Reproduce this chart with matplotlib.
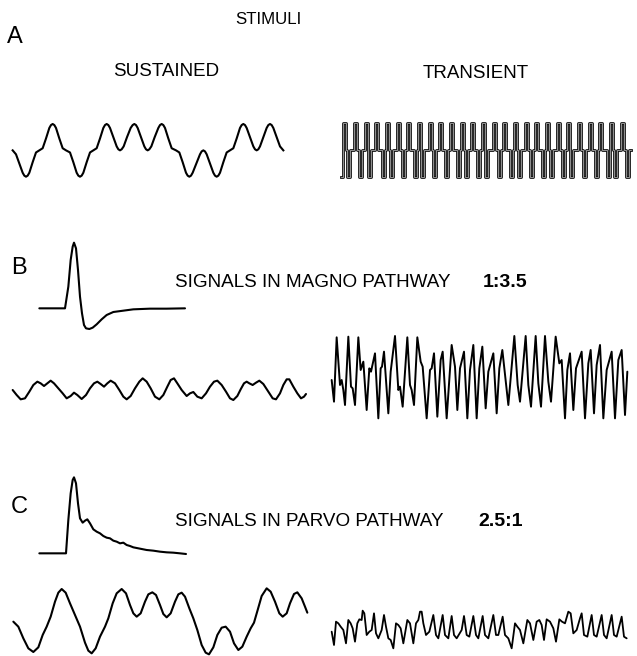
import matplotlib
matplotlib.use("Agg")
import matplotlib.pyplot as plt

W, H = 637, 656
FONT = ["Liberation Sans", "DejaVu Sans"]

# ---------- A: stimuli ----------
# sustained stimulus: time (a.u.) and normalised amplitude
sust_stim_t = [38, 48, 58, 68, 73, 78, 83, 88, 98, 108, 118, 128, 138, 148, 153, 158, 163, 168, 178, 188,
               198, 210, 220, 230, 235, 240, 245, 250, 260, 270, 280, 290, 300, 310, 315, 320, 325, 330,
               340, 350, 355, 360, 365, 371, 381, 392, 398, 403, 408, 413, 423, 433, 438, 443, 448, 454,
               464, 475, 480, 485, 490, 495, 505, 515, 528, 538, 548, 558, 563, 568, 573, 578, 589, 600,
               605, 610, 615, 620, 630, 640, 645, 650, 655, 660, 670, 680, 690, 700, 710, 720, 725, 730,
               735, 740, 750, 760, 765, 770, 775, 780, 790, 800, 805, 810, 815, 820, 830, 840, 850]
sust_stim_v = [0, -0.15, -0.5, -0.85, -0.96, -1, -0.96, -0.85, -0.45, -0.08, 0, 0.08, 0.45, 0.85, 0.96, 1, 0.96, 0.85, 0.45, 0.08,
               0, -0.08, -0.45, -0.85, -0.96, -1, -0.96, -0.85, -0.45, -0.08, 0, 0.08, 0.45, 0.85, 0.96, 1, 0.96, 0.85,
               0.5, 0.15, 0.04, 0, 0.04, 0.15, 0.5, 0.85, 0.96, 1, 0.96, 0.85, 0.5, 0.15, 0.04, 0, 0.04, 0.15,
               0.5, 0.85, 0.96, 1, 0.96, 0.85, 0.45, 0.08, 0, -0.08, -0.45, -0.85, -0.96, -1, -0.96, -0.85, -0.5, -0.15,
               -0.04, 0, -0.04, -0.15, -0.5, -0.85, -0.96, -1, -0.96, -0.85, -0.45, -0.08, 0, 0.08, 0.45, 0.85, 0.96, 1,
               0.96, 0.85, 0.5, 0.15, 0.04, 0, 0.04, 0.15, 0.5, 0.85, 0.96, 1, 0.96, 0.85, 0.5, 0.15, 0]

# transient stimulus: three-level pulse train, width of first mid step in each cycle
trans_start = 62
trans_first_rise = 70
trans_top_w = 9
trans_bottom_w = 9
trans_mid_total = 14
trans_mid_a = [2, 6, 0, 10, 4, 8, 12, 0, 3, 7, 11, 5, 9, 1, 6, 10, 2, 7, 12, 4, 8, 0, 5, 9, 13, 3, 7]

# ---------- B: magno pathway ----------
magno_imp_t = [118, 195, 205, 212, 218, 222, 228, 234, 240, 246, 252, 258, 268, 278, 290, 305,
               320, 340, 370, 400, 450, 500, 555]
magno_imp_v = [235, 235, 170, 90, 50, 38, 55, 120, 200, 250, 285, 295, 297, 293, 283, 268,
               255, 246, 242, 238, 236, 236, 235]

magno_sus_t = [38, 50, 62, 75, 88, 100, 112, 122, 132, 142, 152, 162, 175, 188, 200, 212, 222, 232,
               245, 258, 270, 282, 292, 302, 312, 322, 332, 345, 358, 370, 380, 392, 405, 418, 428,
               440, 452, 465, 478, 490, 502, 512, 522, 532, 545, 560, 570, 580, 592, 605, 618, 630,
               642, 652, 665, 678, 690, 700, 712, 722, 732, 740, 748, 758, 768, 778, 790, 805, 818,
               828, 840, 850, 860, 868, 880, 892, 903, 912, 918]
magno_sus_v = [180, 195, 208, 205, 185, 165, 155, 160, 168, 160, 152, 160, 175, 190, 205, 198, 188, 195,
               207, 195, 175, 160, 155, 162, 170, 160, 152, 160, 180, 200, 208, 198, 175, 155, 145,
               155, 175, 200, 208, 195, 170, 150, 145, 160, 180, 198, 190, 186, 200, 205, 190, 170,
               155, 152, 165, 185, 205, 210, 198, 178, 160, 155, 160, 165, 158, 152, 162, 185, 205,
               208, 190, 165, 148, 148, 170, 190, 205, 200, 192]

magno_tr_t = [35, 42, 50, 60, 65, 70, 75, 85, 93, 98, 105, 115, 122, 130, 140, 148, 153, 165, 175,
              182, 186, 192, 205, 212, 225, 235, 240, 248, 262, 270, 275, 282, 292, 302, 308, 320,
              330, 335, 342, 352, 362, 368, 380, 395, 405, 412, 420, 432, 442, 450, 460, 470, 478,
              487, 497, 505, 520, 530, 538, 547, 565, 583, 593, 600, 617, 625, 633, 647, 655, 663,
              675, 685, 693, 707, 718, 725, 735, 742, 750, 760, 768, 785, 795, 805, 812, 822, 830,
              840, 850, 860, 875, 885, 895, 905, 915, 922]
magno_tr_v = [150, 215, 22, 165, 150, 180, 225, 20, 170, 175, 225, 22, 120, 95, 240, 115, 125, 70, 265,
              115, 110, 65, 250, 125, 18, 180, 170, 230, 22, 165, 180, 225, 22, 95, 110, 265,
              120, 115, 70, 260, 90, 65, 265, 45, 110, 240, 115, 65, 265, 120, 45, 265, 115,
              50, 235, 125, 70, 250, 115, 60, 225, 18, 165, 215, 18, 165, 230, 18, 160, 230,
              18, 155, 215, 20, 100, 90, 265, 120, 70, 240, 115, 65, 265, 100, 60, 250, 105,
              45, 265, 120, 65, 265, 90, 60, 255, 125]

# ---------- C: parvo pathway ----------
parvo_imp_t = [118, 198, 205, 212, 218, 222, 228, 234, 240, 248, 255, 262, 270, 280, 290, 300, 310,
               320, 330, 340, 350, 360, 370, 380, 390, 400, 420, 440, 460, 480, 500, 520, 540, 558]
parvo_imp_v = [250, 250, 150, 70, 30, 22, 40, 100, 145, 158, 152, 148, 160, 178, 185, 190, 198,
               203, 205, 212, 215, 220, 218, 225, 228, 232, 236, 240, 242, 245, 247, 248, 250, 252]

parvo_sus_t = [40, 55, 70, 85, 100, 115, 128, 140, 152, 165, 175, 185, 197, 210, 225, 240, 255, 265,
               275, 287, 300, 315, 325, 338, 350, 365, 378, 390, 400, 410, 422, 435, 445, 457, 468,
               480, 490, 500, 512, 525, 535, 545, 555, 568, 580, 592, 605, 617, 627, 640, 652, 665,
               677, 690, 702, 715, 727, 740, 752, 762, 773, 785, 800, 812, 825, 838, 848, 860, 870,
               882, 892, 905, 915, 922]
parvo_sus_v = [185, 200, 235, 265, 276, 262, 225, 200, 170, 125, 98, 87, 98, 130, 165, 200, 248, 272,
               280, 265, 230, 200, 175, 130, 100, 87, 100, 135, 160, 170, 160, 125, 103, 97, 105,
               135, 162, 172, 160, 125, 103, 98, 110, 145, 175, 210, 255, 278, 283, 262, 225, 203,
               200, 215, 250, 270, 260, 230, 205, 188, 150, 108, 85, 95, 125, 160, 170, 160, 130,
               102, 97, 115, 140, 158]

parvo_tr_t = [35, 42, 48, 55, 62, 70, 78, 85, 92, 98, 105, 112, 118, 125, 128, 133, 140, 148, 155,
              162, 168, 175, 185, 192, 198, 205, 212, 220, 228, 235, 242, 250, 262, 270, 280, 288,
              295, 300, 305, 310, 318, 328, 340, 348, 355, 368, 375, 385, 395, 402, 410, 425, 432,
              440, 448, 460, 468, 475, 488, 495, 505, 520, 528, 535, 548, 555, 565, 575, 585, 592,
              600, 610, 622, 630, 640, 650, 658, 665, 672, 680, 690, 700, 708, 718, 726, 735, 745,
              752, 760, 770, 780, 785, 792, 802, 815, 822, 830, 845, 852, 860, 875, 882, 890, 905,
              912, 920]
parvo_tr_v = [155, 195, 125, 130, 140, 150, 190, 120, 130, 145, 185, 130, 118, 120, 92, 100, 165, 155, 150,
              100, 160, 175, 150, 105, 140, 175, 180, 205, 130, 135, 145, 190, 120, 130, 190, 130,
              120, 95, 95, 130, 165, 155, 105, 165, 175, 105, 165, 175, 108, 165, 175, 150, 108,
              165, 170, 108, 165, 175, 108, 165, 175, 105, 165, 165, 110, 165, 175, 205, 130, 140,
              150, 190, 120, 130, 180, 125, 120, 135, 180, 118, 125, 145, 185, 118, 125, 130, 95,
              100, 160, 150, 115, 100, 165, 170, 105, 165, 170, 105, 165, 175, 105, 165, 170, 110,
              170, 175]


def px_axes(fig, x, y, w, h):
    """axes placed by pixel box (top-left origin)"""
    ax = fig.add_axes([x / W, 1 - (y + h) / H, w / W, h / H])
    ax.set_axis_off()
    ax.patch.set_alpha(0)
    return ax


def zoom_trace(fig, box, t, v, lw=1.5):
    x, y, w, h = box
    ax = px_axes(fig, x, y, w, h)
    ax.plot(t, v, color="black", lw=lw, solid_joinstyle="round", solid_capstyle="round", clip_on=False)
    ax.set_xlim(0, 3 * w)
    ax.set_ylim(3 * h, 0)
    return ax


def label(fig, x, y, s, size, weight="normal", ha="center"):
    fig.text(x / W, 1 - y / H, s, fontsize=size, fontweight=weight, ha=ha, va="center", family=FONT)


fig = plt.figure(figsize=(W / 100, H / 100), dpi=100)
fig.patch.set_facecolor("white")

# text
label(fig, 268, 20, "STIMULI", 12.2)
label(fig, 15, 37, "A", 17)
label(fig, 166, 72, "SUSTAINED", 13.5)
label(fig, 476, 73, "TRANSIENT", 13.5)
label(fig, 19, 268, "B", 17)
label(fig, 175, 282, "SIGNALS IN MAGNO PATHWAY", 13.6, ha="left")
label(fig, 483, 282, "1:3.5", 14, weight="bold", ha="left")
label(fig, 19, 507, "C", 17)
label(fig, 175, 522, "SIGNALS IN PARVO PATHWAY", 13.6, ha="left")
label(fig, 478, 522, "2.5:1", 14, weight="bold", ha="left")

# A: sustained stimulus
ax = px_axes(fig, 0, 124, 300, 52.7)
ax.plot(sust_stim_t, sust_stim_v, color="black", lw=1.5, solid_joinstyle="round", clip_on=False)
ax.set_xlim(0, 900)
ax.set_ylim(-1, 1)

# A: transient stimulus
seg_t, seg_v = [trans_start], [-1]
t = trans_first_rise
for a in trans_mid_a:
    for dur, lev in ((trans_top_w, 1), (a, 0), (trans_bottom_w, -1), (trans_mid_total - a, 0)):
        if dur > 0:
            seg_t.append(t)
            seg_v.append(lev)
            t += dur
seg_t.append(t)
seg_v.append(seg_v[-1])
ax = px_axes(fig, 320, 123.3, 317, 53.4)
# scanned look: dark outline with a grey core
ax.step(seg_t, seg_v, where="post", color="#111111", lw=2.0, clip_on=False)
ax.step(seg_t, seg_v, where="post", color="#a8a8a8", lw=0.6, clip_on=False)
ax.set_xlim(0, 951)
ax.set_ylim(-1, 1)

# B: magno
zoom_trace(fig, (0, 230, 200, 100), magno_imp_t, magno_imp_v)
zoom_trace(fig, (0, 330, 310, 80), magno_sus_t, magno_sus_v)
zoom_trace(fig, (320, 330, 317, 90), magno_tr_t, magno_tr_v, lw=1.4)

# C: parvo
zoom_trace(fig, (0, 470, 200, 90), parvo_imp_t, parvo_imp_v)
zoom_trace(fig, (0, 560, 310, 96), parvo_sus_t, parvo_sus_v)
zoom_trace(fig, (320, 580, 317, 76), parvo_tr_t, parvo_tr_v, lw=1.3)

fig.savefig("out.png", dpi=100, facecolor="white")
plt.close(fig)
